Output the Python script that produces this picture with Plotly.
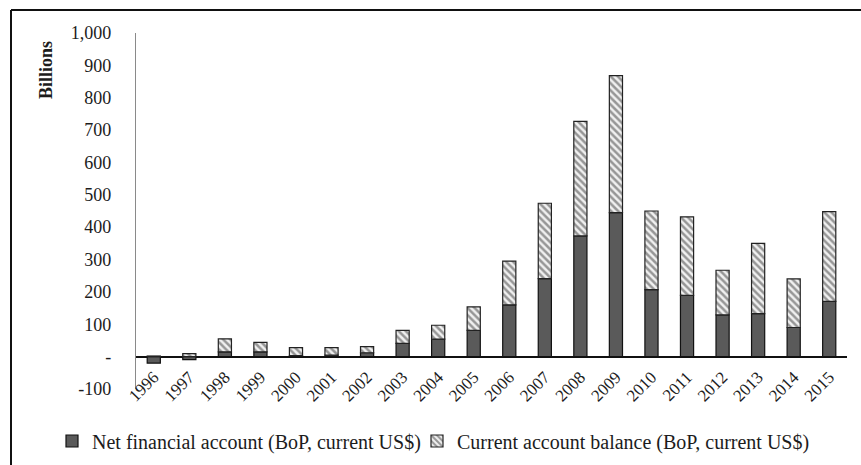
import plotly.graph_objects as go

# Annual balance-of-payments figures, billions of current US$
years = [str(y) for y in range(1996, 2016)]
net_financial = [-20, -9, 15, 15, 3, 5, 12, 41, 54, 81, 160, 241, 373, 445, 207, 189, 129, 133, 90, 171]
current_account = [2, 9, 40, 29, 25, 23, 19, 40, 43, 73, 135, 233, 354, 423, 243, 243, 138, 217, 150, 277]

y_tick_vals = [-100, 0, 100, 200, 300, 400, 500, 600, 700, 800, 900, 1000]
y_tick_text = ["-100", "-", "100", "200", "300", "400", "500", "600", "700", "800", "900", "1,000"]

W, H = 861, 465
M_L, M_R, M_T, M_B = 136, 14, 33, 76
FONT = "Liberation Serif"
TXT = "#1c1c1c"

fig = go.Figure()
fig.add_trace(go.Bar(
    x=years, y=net_financial,
    name="Net financial account (BoP, current US$)",
    legend="legend",
    marker=dict(color="#5a5a5a", line=dict(color="#111111", width=1.2)),
))
fig.add_trace(go.Bar(
    x=years, y=current_account,
    name="Current account balance (BoP, current US$)",
    legend="legend2",
    marker=dict(
        color="white",
        line=dict(color="#222222", width=1.2),
        pattern=dict(shape="\\", fgcolor="#3c3c3c", bgcolor="#f0f0f0",
                     size=5, solidity=0.5),
    ),
))

# frame lines along the top and left edges of the image
pw, ph = W - M_L - M_R, H - M_T - M_B
def px_x(p):
    return (p - M_L) / pw
def px_y(p):
    return (H - M_B - p) / ph

fig.add_shape(type="line", xref="paper", yref="paper",
              x0=px_x(11), x1=px_x(W + 2), y0=px_y(10), y1=px_y(10),
              line=dict(color="#111111", width=2))
fig.add_shape(type="line", xref="paper", yref="paper",
              x0=px_x(11), x1=px_x(11), y0=px_y(10), y1=px_y(H + 2),
              line=dict(color="#111111", width=2))

fig.add_annotation(text="<b>Billions</b>", xref="paper", yref="paper",
                   x=px_x(46), y=px_y(70), xanchor="center", yanchor="middle",
                   showarrow=False, textangle=-90,
                   font=dict(family=FONT, size=18, color=TXT))

legend_style = dict(orientation="h", xref="container", yref="container",
                    xanchor="left", yanchor="middle",
                    font=dict(family=FONT, size=20, color=TXT),
                    itemwidth=30, bgcolor="rgba(0,0,0,0)")

fig.update_layout(
    width=W, height=H,
    margin=dict(l=M_L, r=M_R, t=M_T, b=M_B, autoexpand=False),
    paper_bgcolor="white", plot_bgcolor="white",
    barmode="relative", bargap=0.63,
    font=dict(family=FONT, size=18, color=TXT),
    showlegend=True,
    legend=dict(legend_style, x=52 / W, y=(H - 441) / H),
    legend2=dict(legend_style, x=417 / W, y=(H - 441) / H),
    xaxis=dict(showgrid=False, showline=False, ticks="", tickangle=-45,
               ticklabelstandoff=-26, tickfont=dict(family=FONT, size=17, color=TXT)),
    yaxis=dict(range=[-100, 1000], tickvals=y_tick_vals, ticktext=y_tick_text,
               showgrid=False, showline=True, linecolor="#8a8a8a", linewidth=1.2,
               zeroline=True, zerolinecolor="#111111", zerolinewidth=1.6,
               ticks="", ticklabelstandoff=20,
               tickfont=dict(family=FONT, size=18, color=TXT)),
)

fig.write_html("out.html")
